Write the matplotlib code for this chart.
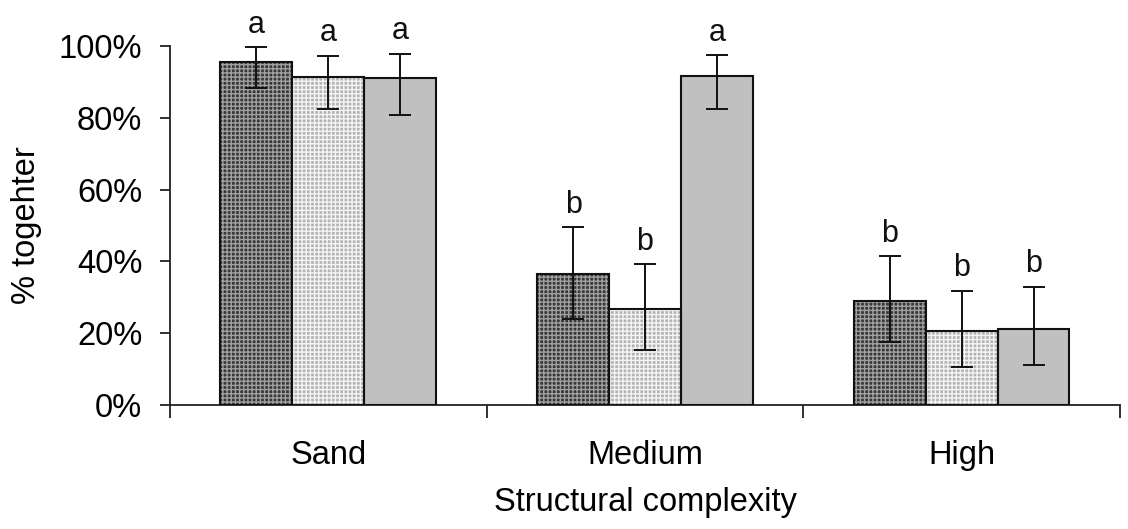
"""
Grouped bar chart of the share of animals found together across
three levels of structural complexity, with error bars and
significance letters above each bar.
"""

import matplotlib

matplotlib.use("Agg")

import matplotlib.pyplot as plt
import numpy as np
from matplotlib.ticker import FixedLocator, NullFormatter, PercentFormatter

plt.rcParams["font.family"] = ["Liberation Sans", "DejaVu Sans"]
plt.rcParams["hatch.linewidth"] = 1.0

categories = ["Sand", "Medium", "High"]

# mean % together per treatment (three bars per category)
means_1 = [95.5, 36.5, 29.0]
means_2 = [91.3, 26.7, 20.6]
means_3 = [91.2, 91.6, 21.1]

# lower and upper ends of the error bars
low_1 = [88.3, 24.0, 17.6]
high_1 = [99.7, 49.6, 41.5]
low_2 = [82.4, 15.3, 10.7]
high_2 = [97.3, 39.3, 31.8]
low_3 = [80.8, 82.4, 11.1]
high_3 = [97.9, 97.5, 33.0]

# significance letters
letters_1 = ["a", "b", "b"]
letters_2 = ["a", "b", "b"]
letters_3 = ["a", "a", "b"]

series = [
    (means_1, low_1, high_1, letters_1),
    (means_2, low_2, high_2, letters_2),
    (means_3, low_3, high_3, letters_3),
]

# face colour, hatch colour, hatch pattern
styles = [
    ("#383838", "#a0a0a0", "++++"),
    ("#b4b4b4", "#f4f4f4", "++++"),
    ("#c0c0c0", "#c0c0c0", None),
]

fig = plt.figure(figsize=(11.28, 5.29), dpi=100)
ax = fig.add_axes([0.1507, 0.2344, 0.8422, 0.6786])

x = np.arange(len(categories))
width = 0.227
offsets = [-width, 0.0, width]

for (means, low, high, letters), (face, hatch_col, hatch), off in zip(series, styles, offsets):
    means = np.array(means)
    low = np.array(low)
    high = np.array(high)
    pos = x + off

    # patterned fill first, then a crisp black outline on top
    ax.bar(pos, means, width, color=face, edgecolor=hatch_col, hatch=hatch,
           linewidth=0, zorder=2)
    ax.bar(pos, means, width, fill=False, edgecolor="#111111",
           linewidth=1.5, zorder=3)

    ax.errorbar(pos, means, yerr=[means - low, high - means], fmt="none",
                ecolor="#111111", elinewidth=1.4, capsize=8, capthick=1.4,
                zorder=4)

    for px, top, letter in zip(pos, high, letters):
        ax.text(px, top + 4.0, letter, ha="center", va="baseline",
                fontsize=22, color="#111111")

ax.set_xlim(-0.5, 2.5)
ax.set_ylim(0, 100)

ax.yaxis.set_major_locator(FixedLocator([0, 20, 40, 60, 80, 100]))
ax.yaxis.set_major_formatter(PercentFormatter(100, decimals=0))

# ticks between groups, labels centred under each group
ax.xaxis.set_major_locator(FixedLocator([-0.5, 0.5, 1.5, 2.5]))
ax.xaxis.set_major_formatter(NullFormatter())
ax.xaxis.set_minor_locator(FixedLocator(x))
ax.set_xticklabels(categories, minor=True)

ax.tick_params(axis="y", direction="out", length=7, width=1.3,
               labelsize=23.5, pad=13, color="#222222")
ax.tick_params(axis="x", which="major", direction="out", length=9,
               width=1.3, color="#222222")
ax.tick_params(axis="x", which="minor", length=0, labelsize=23.5, pad=25)

for side in ["top", "right"]:
    ax.spines[side].set_visible(False)
for side in ["left", "bottom"]:
    ax.spines[side].set_linewidth(1.3)
    ax.spines[side].set_color("#222222")

ax.set_xlabel("Structural complexity", fontsize=23.5, labelpad=12)
ax.set_ylabel("% togehter", fontsize=23.5, labelpad=12)

fig.savefig("out.png", dpi=100)
